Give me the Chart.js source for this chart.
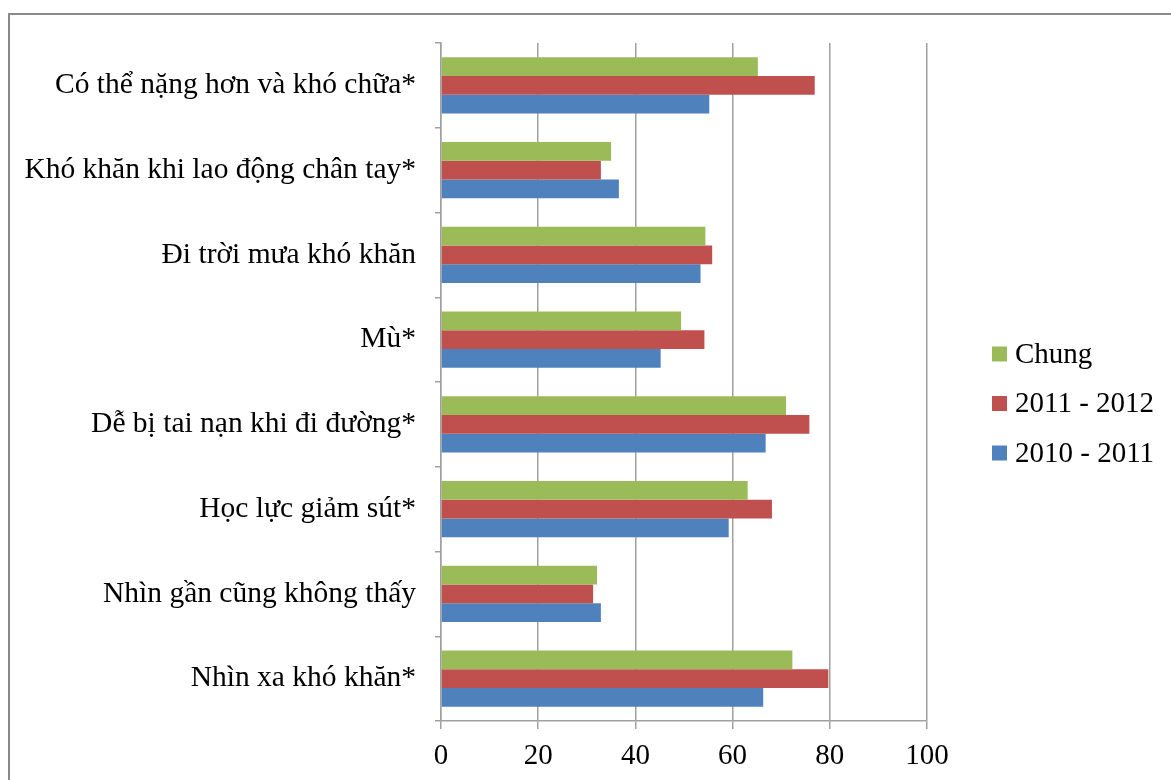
<!DOCTYPE html>
<html>
<head>
<meta charset="utf-8">
<script src="https://cdn.jsdelivr.net/npm/chart.js@4"></script>
<style>
  html, body { margin: 0; padding: 0; background: #fff; }
  #wrap { width: 1171px; height: 780px; position: relative; }
</style>
</head>
<body>
<div id="wrap"><canvas id="c" width="1171" height="780"></canvas></div>
<script>
// Survey answers (%), categories listed top to bottom
const categories = [
  'Có thể nặng hơn và khó chữa*',
  'Khó khăn khi lao động chân tay*',
  'Đi trời mưa khó khăn',
  'Mù*',
  'Dễ bị tai nạn khi đi đường*',
  'Học lực giảm sút*',
  'Nhìn gần cũng không thấy',
  'Nhìn xa khó khăn*'
];
const seriesNames = ['Chung', '2011 - 2012', '2010 - 2011'];
const chungValues = [65.2, 35.0, 54.4, 49.4, 71.0, 63.1, 32.1, 72.3];
const y2011Values = [76.9, 32.9, 55.8, 54.2, 75.8, 68.1, 31.3, 79.7];
const y2010Values = [55.2, 36.6, 53.4, 45.2, 66.8, 59.2, 32.9, 66.3];
const xTicks = [0, 20, 40, 60, 80, 100];

const colors = ['#9BBB59', '#C0504D', '#4F81BD'];
const FONT = 'Liberation Serif, "Times New Roman", serif';

// Outer frame of the chart
const framePlugin = {
  id: 'frame',
  beforeDraw(chart) {
    const ctx = chart.ctx;
    ctx.save();
    ctx.fillStyle = '#fff';
    ctx.fillRect(0, 0, chart.width, chart.height);
    ctx.strokeStyle = '#8a8a8a';
    ctx.lineWidth = 2;
    ctx.strokeRect(9, 14, chart.width + 20, chart.height + 20);
    ctx.restore();
  }
};

// Legend on the right, items stacked vertically
const sideLegend = {
  id: 'sideLegend',
  afterDraw(chart) {
    const ctx = chart.ctx;
    ctx.save();
    ctx.font = '29px ' + FONT;
    ctx.textBaseline = 'middle';
    ctx.fillStyle = '#000';
    const x = 992, y0 = 354, step = 49.5, sq = 15;
    chart.data.datasets.forEach((ds, i) => {
      const cy = y0 + i * step;
      ctx.fillStyle = ds.backgroundColor;
      ctx.fillRect(x, cy - sq / 2, sq, sq);
      ctx.fillStyle = '#000';
      ctx.fillText(ds.label, x + 23, cy + 1);
    });
    ctx.restore();
  }
};

new Chart(document.getElementById('c'), {
  type: 'bar',
  data: {
    labels: categories,
    datasets: [
      { label: seriesNames[0], data: chungValues, backgroundColor: colors[0] },
      { label: seriesNames[1], data: y2011Values, backgroundColor: colors[1] },
      { label: seriesNames[2], data: y2010Values, backgroundColor: colors[2] }
    ]
  },
  options: {
    indexAxis: 'y',
    responsive: false,
    animation: false,
    devicePixelRatio: 1,
    categoryPercentage: 0.665,
    barPercentage: 1.0,
    layout: { padding: { top: 43, right: 244, bottom: 0, left: 0 } },
    plugins: { legend: { display: false }, tooltip: { enabled: false } },
    scales: {
      x: {
        min: 0, max: 100,
        afterBuildTicks(scale) { scale.ticks = xTicks.map(v => ({ value: v })); },
        afterFit(scale) { scale.height = 59; },
        grid: { color: '#a0a0a0', lineWidth: 1.5, tickLength: 8, drawTicks: true },
        border: { display: true, color: '#a0a0a0', width: 1.5 },
        ticks: { color: '#000', font: { family: FONT, size: 29 }, padding: 10, maxRotation: 0 }
      },
      y: {
        afterFit(scale) { scale.width = 441; },
        grid: { offset: true, drawOnChartArea: false, color: '#a0a0a0', lineWidth: 1.5, tickLength: 6 },
        border: { display: true, color: '#a0a0a0', width: 1.5 },
        ticks: { color: '#000', font: { family: FONT, size: 29.5 }, padding: 19 }
      }
    }
  },
  plugins: [framePlugin, sideLegend]
});
</script>
</body>
</html>
